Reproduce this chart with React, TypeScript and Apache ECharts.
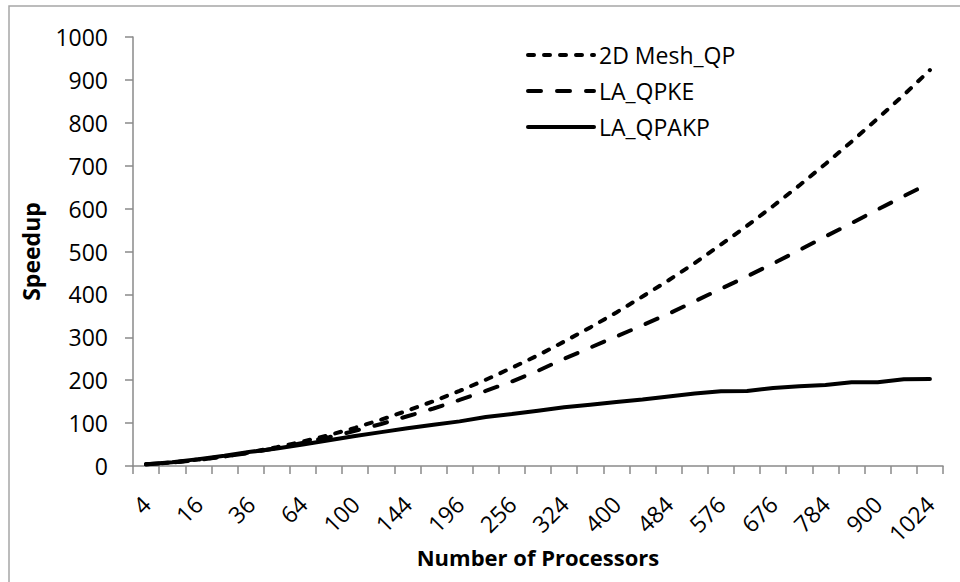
import React, { useEffect, useRef } from "react";
import * as echarts from "echarts";

const processors = [
  "4", "9", "16", "25", "36", "49", "64", "81", "100", "121", "144", "169", "196", "225", "256", "289",
  "324", "361", "400", "441", "484", "529", "576", "625", "676", "729", "784", "841", "900", "961", "1024",
];
const mesh2dQP = [
  4, 8, 15, 22, 32, 44, 57, 72, 89, 108, 129, 151, 175, 201, 229, 258,
  290, 323, 358, 395, 433, 473, 516, 560, 606, 654, 704, 756, 810, 865, 923,
];
const laQPKE = [
  4, 8, 14, 22, 31, 42, 54, 67, 82, 98, 116, 134, 154, 175, 197, 222,
  250, 276, 302, 328, 355, 384, 413, 442, 472, 503, 535, 566, 598, 629, 660,
];
const laQPAKP = [
  4, 9, 16, 24, 33, 41, 50, 60, 70, 79, 88, 96, 104, 114, 121, 129,
  137, 143, 149, 155, 162, 169, 174, 175, 182, 186, 189, 195, 195, 202, 203,
];
const yTicks = { min: 0, max: 1000, interval: 100 };

const FONT = "'Open Sans', 'Noto Sans', sans-serif";
const AXIS_COLOR = "#8a8a8a";

export default function App() {
  const ref = useRef<HTMLDivElement>(null);
  useEffect(() => {
    if (!ref.current) return;
    const chart = echarts.init(ref.current, undefined, { renderer: "svg" });
    chart.setOption({
      animation: false,
      backgroundColor: "#ffffff",
      textStyle: { fontFamily: FONT, color: "#000" },
      graphic: [
        {
          type: "rect",
          shape: { x: 9, y: 6, width: 1000, height: 1000 },
          style: { fill: "none", stroke: "#a6a6a6", lineWidth: 1.5 },
          silent: true,
        },
      ],
      grid: { left: 133, right: 17, top: 37, bottom: 116 },
      legend: {
        orient: "vertical",
        left: 521,
        top: 38,
        itemWidth: 66,
        itemHeight: 14,
        itemGap: 12,
        itemStyle: { opacity: 0 },
        lineStyle: { width: 4, cap: "round" },
        textStyle: {
          fontFamily: FONT,
          fontSize: 23,
          color: "#000",
          lineHeight: 24,
        },
        data: ["2D Mesh_QP", "LA_QPKE", "LA_QPAKP"],
      },
      xAxis: {
        type: "category",
        data: processors,
        boundaryGap: true,
        name: "Number of Processors",
        nameLocation: "middle",
        nameGap: 80,
        nameMoveOverlap: false,
        nameTextStyle: { fontFamily: FONT, fontSize: 22, fontWeight: "bold", color: "#000" },
        axisLine: { show: true, lineStyle: { color: AXIS_COLOR, width: 1.5 } },
        axisTick: { show: true, interval: 0, length: 8, lineStyle: { color: AXIS_COLOR, width: 1.5 } },
        axisLabel: {
          interval: 1,
          rotate: 45,
          margin: 34,
          fontFamily: FONT,
          fontSize: 23,
          color: "#000",
        },
        splitLine: { show: false },
      },
      yAxis: {
        type: "value",
        min: yTicks.min,
        max: yTicks.max,
        interval: yTicks.interval,
        name: "Speedup",
        nameLocation: "middle",
        nameGap: 91,
        nameMoveOverlap: false,
        nameTextStyle: { fontFamily: FONT, fontSize: 23, fontWeight: "bold", color: "#000" },
        axisLine: { show: true, lineStyle: { color: AXIS_COLOR, width: 1.5 } },
        axisTick: { show: true, length: 8, lineStyle: { color: AXIS_COLOR, width: 1.5 } },
        axisLabel: {
          margin: 25,
          fontFamily: FONT,
          fontSize: 23,
          color: "#000",
          formatter: (v: number) => String(v),
        },
        splitLine: { show: false },
      },
      series: [
        {
          name: "2D Mesh_QP",
          type: "line",
          data: mesh2dQP,
          symbol: "none",
          lineStyle: { color: "#000", width: 4, type: [6, 10], cap: "round" },
          itemStyle: { color: "#000" },
        },
        {
          name: "LA_QPKE",
          type: "line",
          data: laQPKE,
          symbol: "none",
          lineStyle: { color: "#000", width: 4, type: [13, 16], cap: "round" },
          itemStyle: { color: "#000" },
        },
        {
          name: "LA_QPAKP",
          type: "line",
          data: laQPAKP,
          symbol: "none",
          lineStyle: { color: "#000", width: 4, type: "solid", cap: "round" },
          itemStyle: { color: "#000" },
        },
      ],
    });
    return () => chart.dispose();
  }, []);
  return (
    <div
      ref={ref}
      style={{ position: "fixed", left: 0, top: 0, width: 960, height: 582 }}
    />
  );
}
